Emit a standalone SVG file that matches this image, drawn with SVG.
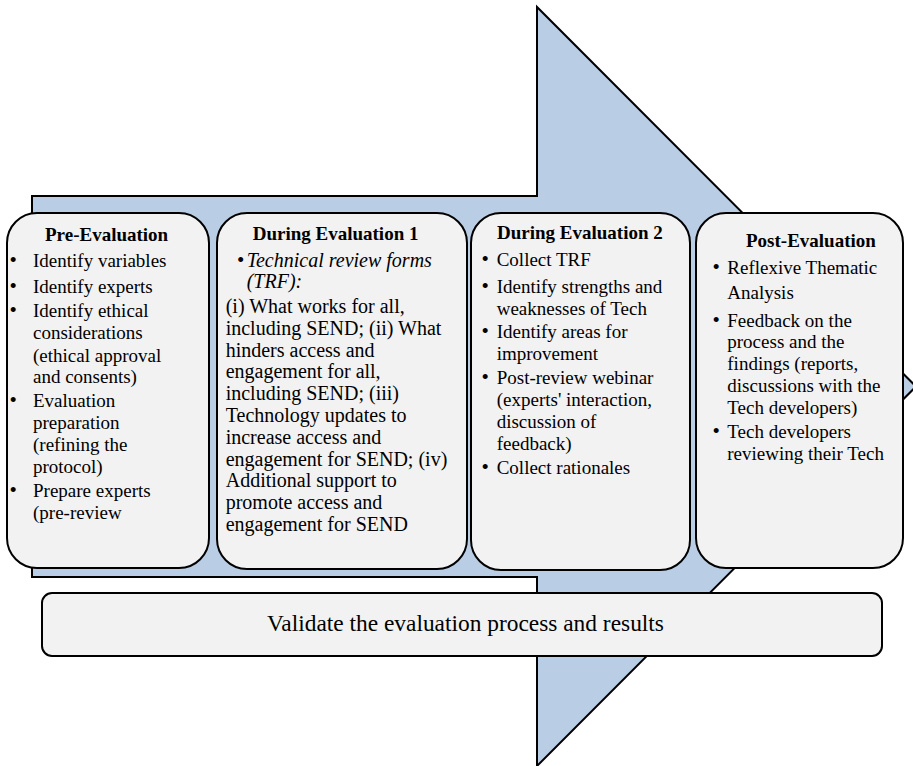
<svg xmlns="http://www.w3.org/2000/svg" width="913" height="766" viewBox="0 0 913 766">
<style>
.box{fill:#f2f2f2;stroke:#000;stroke-width:2}
.arrow{fill:#b9cde5;stroke:#000;stroke-width:2;stroke-linejoin:miter}
text{font-family:"Liberation Serif","Times New Roman",serif;font-size:19px;fill:#000}
.h{font-weight:bold}
.i{font-style:italic}
.m{font-size:20px}
.b{font-size:21px}
.big{font-size:23.4px}
</style>
<rect width="913" height="766" fill="#fff"/>
<g id="connectors">
<path class="arrow" d="M32,196 L537,196 L537,7 L916,386.5 L537,766 L537,577 L32,577 Z"/>
</g>
<g id="pre-evaluation">
<rect class="box" x="7" y="213" width="202" height="355" rx="30" ry="30"/>
<text class="h" x="45" y="241">Pre-Evaluation</text>
<text class="b" x="9.5" y="267">•</text><text x="33" y="267">Identify variables</text>
<text class="b" x="9.5" y="292.7">•</text><text x="33" y="292.7">Identify experts</text>
<text class="b" x="9.5" y="317">•</text><text x="33" y="317">Identify ethical</text>
<text x="33" y="339">considerations</text>
<text x="33" y="361.5">(ethical approval</text>
<text x="33" y="383">and consents)</text>
<text class="b" x="9.5" y="406.7">•</text><text x="33" y="406.7">Evaluation</text>
<text x="33" y="428.5">preparation</text>
<text x="33" y="450.7">(refining the</text>
<text x="33" y="472.7">protocol)</text>
<text class="b" x="9.5" y="496.7">•</text><text x="33" y="496.7">Prepare experts</text>
<text x="33" y="518.5">(pre-review</text>
</g>
<g id="during-evaluation-1">
<rect class="box" x="217" y="213" width="250" height="356" rx="30" ry="30"/>
<text class="h" x="252.7" y="240">During Evaluation 1</text>
<text class="b" x="237" y="266.7">•</text><text class="i m" x="246.7" y="266.7">Technical review forms</text>
<text class="i m" x="246.7" y="288">(TRF):</text>
<text class="m" x="225.7" y="313">(i) What works for all,</text>
<text class="m" x="225.7" y="335">including SEND; (ii) What</text>
<text class="m" x="225.7" y="356.7">hinders access and</text>
<text class="m" x="225.7" y="378.3">engagement for all,</text>
<text class="m" x="225.7" y="400">including SEND; (iii)</text>
<text class="m" x="225.7" y="421.7">Technology updates to</text>
<text class="m" x="225.7" y="443.7">increase access and</text>
<text class="m" x="225.7" y="465.5">engagement for SEND; (iv)</text>
<text class="m" x="225.7" y="487.3">Additional support to</text>
<text class="m" x="225.7" y="509">promote access and</text>
<text class="m" x="225.7" y="531">engagement for SEND</text>
</g>
<g id="during-evaluation-2">
<rect class="box" x="471" y="213" width="219" height="357" rx="30" ry="30"/>
<text class="h" x="497" y="238.5">During Evaluation 2</text>
<text class="b" x="481.5" y="265.7">•</text><text x="496.7" y="265.7">Collect TRF</text>
<text class="b" x="481.5" y="293.3">•</text><text x="496.7" y="293.3">Identify strengths and</text>
<text x="496.7" y="315">weaknesses of Tech</text>
<text class="b" x="481.5" y="338.3">•</text><text x="496.7" y="338.3">Identify areas for</text>
<text x="496.7" y="360">improvement</text>
<text class="b" x="481.5" y="384.3">•</text><text x="496.7" y="384.3">Post-review webinar</text>
<text x="496.7" y="406">(experts' interaction,</text>
<text x="496.7" y="427.7">discussion of</text>
<text x="496.7" y="449.5">feedback)</text>
<text class="b" x="481.5" y="474">•</text><text x="496.7" y="474">Collect rationales</text>
</g>
<g id="post-evaluation">
<rect class="box" x="696" y="213" width="207" height="355" rx="30" ry="30"/>
<text class="h" x="746" y="246.7">Post-Evaluation</text>
<text class="b" x="712.5" y="274">•</text><text x="727.3" y="274">Reflexive Thematic</text>
<text x="727.3" y="299.3">Analysis</text>
<text class="b" x="712.5" y="326.7">•</text><text x="727.3" y="326.7">Feedback on the</text>
<text x="727.3" y="348.3">process and the</text>
<text x="727.3" y="370">findings (reports,</text>
<text x="727.3" y="392.3">discussions with the</text>
<text x="727.3" y="414.3">Tech developers)</text>
<text class="b" x="712.5" y="438.3">•</text><text x="727.3" y="438.3">Tech developers</text>
<text x="727.3" y="460">reviewing their Tech</text>
</g>
<g id="validate">
<rect class="box" x="42" y="593" width="840" height="63" rx="10" ry="10"/>
<text class="big" x="465.5" y="631" text-anchor="middle">Validate the evaluation process and results</text>
</g>
</svg>
